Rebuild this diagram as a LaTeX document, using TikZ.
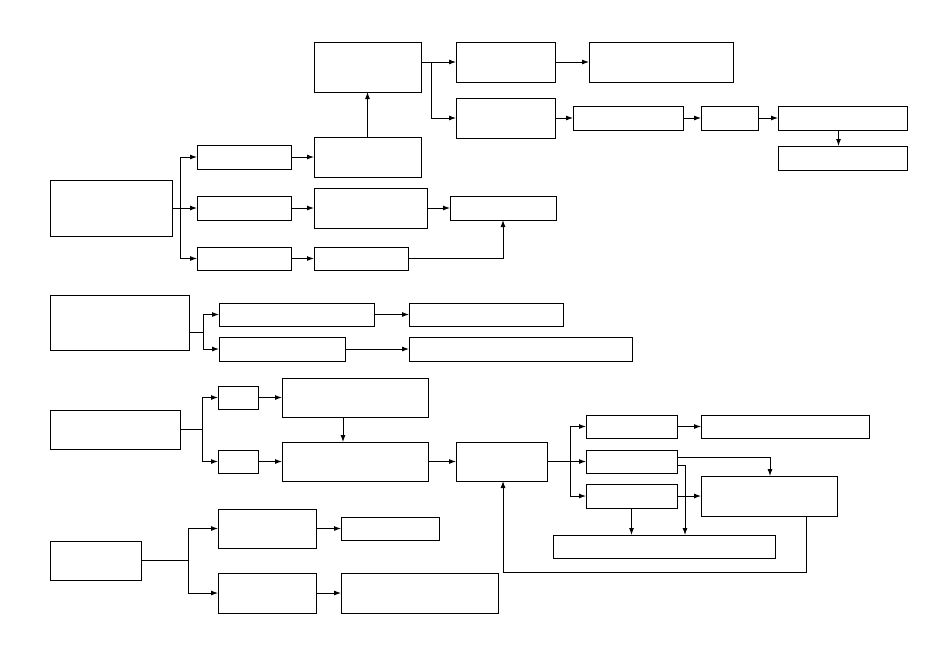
\documentclass[tikz,border=0pt]{standalone}
\usetikzlibrary{arrows.meta}
\begin{document}
\begin{tikzpicture}[
    x=1pt, y=-1pt,
    block/.style={
      draw,
      line width=0.9pt,
      inner sep=0pt,
      outer sep=0pt
    },
    sz/.style 2 args={
      minimum width=#1pt,
      minimum height=#2pt
    },
    flow/.style={
      -{Latex[length=7pt,width=5pt]},
      line width=0.9pt
    },
    link/.style={
      line width=0.9pt
    }
  ]
    \useasboundingbox (0,0) rectangle (950,654);

    % first group
    \node[block, sz={122}{56}] (top) at (111,208) {};
    \node[block, sz={94}{24}] (topA) at (244,157) {};
    \node[block, sz={94}{24}] (topB) at (244,208) {};
    \node[block, sz={94}{23}] (topC) at (244,258.5) {};
    \node[block, sz={107}{50}] (up) at (367.5,67) {};
    \node[block, sz={107}{40}] (upA) at (367.5,157) {};
    \node[block, sz={113}{40}] (midB) at (370.5,208) {};
    \node[block, sz={94}{23}] (midC) at (361,258.5) {};
    \node[block, sz={106}{24}] (join) at (503,208) {};
    \node[block, sz={99}{40}] (upX) at (505.5,62) {};
    \node[block, sz={99}{40}] (upY) at (505.5,118) {};
    \node[block, sz={144}{40}] (upXend) at (661,62) {};
    \node[block, sz={110}{24}] (upY1) at (628,118) {};
    \node[block, sz={57}{24}] (upY2) at (729.5,118) {};
    \node[block, sz={129}{24}] (upY3) at (842.5,118) {};
    \node[block, sz={129}{24}] (upY4) at (842.5,158) {};

    % second group
    \node[block, sz={139}{55}] (second) at (119.5,322.5) {};
    \node[block, sz={155}{23}] (secA) at (296.5,314.5) {};
    \node[block, sz={126}{24}] (secB) at (282,349) {};
    \node[block, sz={154}{23}] (secAend) at (486,314.5) {};
    \node[block, sz={223}{24}] (secBend) at (520.5,349) {};

    % third group
    \node[block, sz={130}{39}] (third) at (115,429.5) {};
    \node[block, sz={40}{23}] (thA) at (238,397.5) {};
    \node[block, sz={40}{23}] (thB) at (238,461.5) {};
    \node[block, sz={146}{39}] (thAwide) at (355,397.5) {};
    \node[block, sz={146}{39}] (thBwide) at (355,461.5) {};
    \node[block, sz={91}{39}] (hub) at (501.5,461.5) {};
    \node[block, sz={91}{23}] (hubA) at (631.5,426.5) {};
    \node[block, sz={91}{23}] (hubB) at (631.5,461.5) {};
    \node[block, sz={91}{24}] (hubC) at (631.5,496) {};
    \node[block, sz={168}{23}] (hubAend) at (785,426.5) {};
    \node[block, sz={136}{40}] (merge) at (769,496) {};
    \node[block, sz={222}{23}] (sink) at (664,546.5) {};

    % fourth group
    \node[block, sz={91}{39}] (fourth) at (95.5,560.5) {};
    \node[block, sz={98}{39}] (foA) at (267,528.5) {};
    \node[block, sz={98}{40}] (foB) at (267,593) {};
    \node[block, sz={98}{23}] (foAend) at (390,528.5) {};
    \node[block, sz={157}{40}] (foBend) at (419.5,593) {};

    \coordinate (topFork) at (180,208);
    \coordinate (upFork) at (431,62);
    \coordinate (secFork) at (203,332);
    \coordinate (thFork) at (202,429.5);
    \coordinate (hubFork) at (570,461.5);
    \coordinate (foFork) at (188,560.5);
    \coordinate (back) at (806,572);

    \draw[link] (top) -- (topFork);
    \draw[flow] (topFork) |- (topA);
    \draw[flow] (topFork) -- (topB);
    \draw[flow] (topFork) |- (topC);
    \draw[flow] (topA) -- (upA);
    \draw[flow] (topB) -- (midB);
    \draw[flow] (topC) -- (midC);
    \draw[flow] (upA) -- (up);
    \draw[flow] (midB) -- (join);
    \draw[flow] (midC) -| (join);
    \draw[link] (up.east |- upFork) -- (upFork);
    \draw[flow] (upFork) -- (upX);
    \draw[flow] (upFork) |- (upY);
    \draw[flow] (upX) -- (upXend);
    \draw[flow] (upY) -- (upY1);
    \draw[flow] (upY1) -- (upY2);
    \draw[flow] (upY2) -- (upY3);
    \draw[flow] ([xshift=-4pt]upY3.south) -- ([xshift=-4pt]upY4.north);

    \draw[link] (second.east |- secFork) -- (secFork);
    \draw[flow] (secFork) |- (secA);
    \draw[flow] (secFork) |- (secB);
    \draw[flow] (secA) -- (secAend);
    \draw[flow] (secB) -- (secBend);

    \draw[link] (third) -- (thFork);
    \draw[flow] (thFork) |- (thA);
    \draw[flow] (thFork) |- (thB);
    \draw[flow] (thA) -- (thAwide);
    \draw[flow] (thB) -- (thBwide);
    \draw[flow] ([xshift=-12pt]thAwide.south) -- ([xshift=-12pt]thBwide.north);
    \draw[flow] (thBwide) -- (hub);
    \draw[link] (hub) -- (hubFork);
    \draw[flow] (hubFork) |- (hubA);
    \draw[flow] (hubFork) -- (hubB);
    \draw[flow] (hubFork) |- (hubC);
    \draw[flow] (hubA) -- (hubAend);
    \draw[flow] ([yshift=4pt]hubB.east) -| ([xshift=1pt]merge.north);
    \draw[flow] ([yshift=-4pt]hubB.east) -| ([xshift=21pt]sink.north);
    \draw[flow] (hubC) -- (merge);
    \draw[flow] (hubC) -- (hubC.south |- sink.north);
    \draw[flow] ([xshift=37pt]merge.south) -- (back) -| ([xshift=1.5pt]hub.south);

    \draw[link] (fourth) -- (foFork);
    \draw[flow] (foFork) |- (foA);
    \draw[flow] (foFork) |- (foB);
    \draw[flow] (foA) -- (foAend);
    \draw[flow] (foB) -- (foBend);
  \end{tikzpicture}
\end{document}
